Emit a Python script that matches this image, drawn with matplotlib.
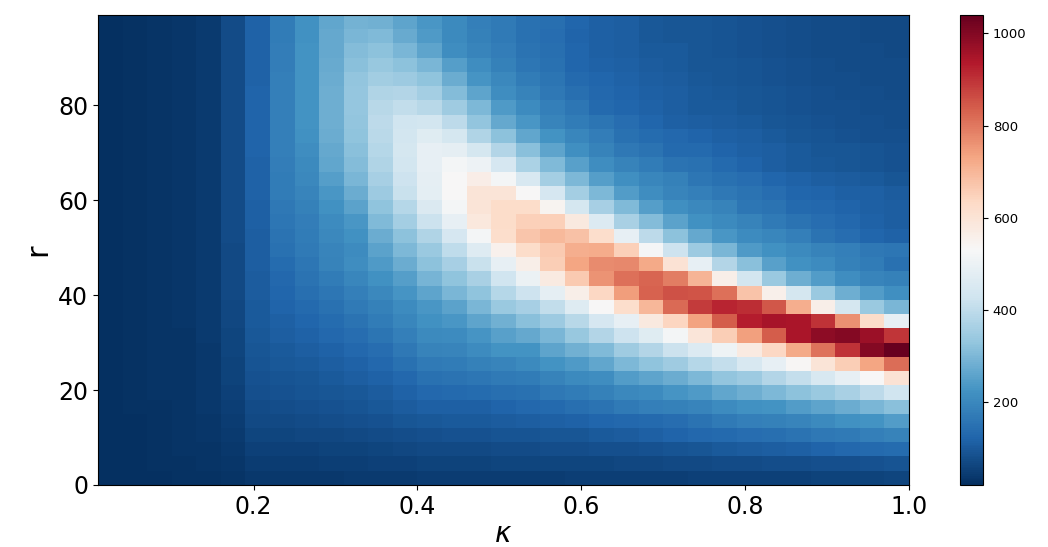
import numpy as np
import matplotlib
matplotlib.use("Agg")
import matplotlib.pyplot as plt

# extent of the data
kappa_range = [0.01, 1.0]
r_range = [0, 99]

# cell values, top row (largest r) first; each row has 33 values for increasing kappa
far_left = [
    [22,24,28,32,40,72],[22,24,28,32,40,72],[22,24,28,32,40,72],[22,24,28,32,40,72],
    [22,24,28,32,40,72],[22,24,28,32,40,72],[22,24,28,32,40,72],[22,24,28,32,40,73],
    [22,24,28,32,40,73],[22,24,28,32,40,73],[22,24,28,32,40,73],[22,24,28,32,40,73],
    [22,24,28,32,40,73],[22,24,28,32,40,72],[22,24,28,32,40,72],[22,24,28,32,40,72],
    [22,24,28,32,40,71],[22,24,28,32,40,70],[22,24,28,32,40,69],[22,24,28,32,40,68],
    [22,24,28,32,40,66],[22,24,28,32,40,64],[22,24,28,31,40,62],[22,24,28,31,39,60],
    [22,24,28,31,39,58],[22,24,28,31,38,56],[22,24,28,30,37,53],[22,24,27,30,36,50],
    [21,23,27,30,35,46],[21,23,26,29,33,42],[21,23,25,28,31,38],[21,22,24,26,29,33],
    [20,21,23,24,26,29],
]
mid_left = [
    [116,175,222,265,290,283,262,232,205,180,170],
    [117,175,223,268,298,305,272,240,205,185,170],
    [118,176,224,270,310,320,295,262,215,195,178],
    [118,178,225,272,315,335,320,295,250,215,185],
    [119,180,226,275,328,352,345,325,275,230,200],
    [120,182,226,280,333,375,380,355,310,260,215],
    [120,182,226,280,333,390,405,390,350,300,240],
    [120,182,225,280,328,395,430,435,395,330,268],
    [120,180,222,278,325,392,438,470,440,375,322],
    [120,180,215,270,318,385,440,490,485,440,380],
    [119,178,205,265,310,375,435,490,520,505,445],
    [118,175,200,250,295,362,425,485,530,565,520],
    [116,172,195,232,275,345,415,480,530,595,595],
    [114,165,185,222,258,325,385,455,520,595,625],
    [112,160,178,210,235,305,355,420,490,585,625],
    [110,155,175,200,222,275,320,375,445,520,620],
    [108,148,170,192,210,258,300,340,400,465,550],
    [108,138,162,188,212,240,275,320,360,415,490],
    [106,130,152,172,196,222,250,293,325,365,430],
    [105,126,144,160,182,202,228,262,295,325,385],
    [103,120,134,148,168,186,210,235,258,295,340],
    [100,114,126,138,155,172,198,222,235,262,285],
    [98,108,118,128,142,158,182,205,210,230,255],
    [94,102,110,118,128,142,165,188,192,208,225],
    [90,96,102,108,116,128,150,170,172,185,195],
    [85,90,95,100,108,116,130,150,155,160,168],
    [80,84,88,92,98,106,118,130,132,138,145],
    [74,78,80,84,90,96,104,112,115,115,122],
    [68,70,72,76,80,85,92,98,100,100,104],
    [60,62,64,66,70,74,78,82,84,84,88],
    [52,54,55,56,58,62,65,68,70,70,74],
    [44,46,46,48,50,52,54,56,58,58,60],
    [36,37,38,38,40,40,42,44,44,44,46],
]
right_side = [
    [150,145,125,112,108,98,95,92,88,85,80,78,74,72,70,68],
    [148,140,120,112,108,98,95,92,88,85,80,78,74,72,70,68],
    [155,145,125,115,110,102,100,95,90,86,82,78,75,74,72,70],
    [160,150,125,118,112,105,102,95,92,88,84,80,77,75,74,72],
    [175,158,135,125,118,108,104,97,94,90,86,82,78,76,75,72],
    [190,165,145,130,122,112,108,100,96,92,88,84,80,78,76,74],
    [210,180,160,135,125,118,110,103,100,95,90,86,83,80,78,76],
    [232,195,175,158,140,125,115,110,105,100,95,90,85,82,80,78],
    [265,225,198,178,150,138,128,122,112,108,100,94,88,85,82,80],
    [315,260,218,190,165,155,135,132,122,115,108,100,95,92,88,85],
    [370,305,255,215,190,175,155,150,135,122,110,100,96,92,90,86],
    [450,355,300,250,218,198,185,160,150,140,125,118,110,105,100,95],
    [530,445,355,300,245,215,195,180,165,155,140,125,122,115,112,105],
    [625,545,440,360,305,250,218,200,190,160,155,135,130,122,112,108],
    [650,650,580,460,365,310,258,222,205,190,170,155,140,130,118,110],
    [670,695,680,620,490,395,320,270,232,208,198,180,155,140,125,118],
    [625,665,715,720,650,525,425,345,295,240,220,205,190,180,165,160],
    [560,655,730,770,775,725,605,490,380,315,255,220,210,185,175,150],
    [500,575,665,760,810,825,790,705,560,435,340,280,245,215,195,185],
    [425,485,560,635,745,830,855,850,810,675,555,440,340,280,245,218],
    [360,405,465,530,620,700,820,885,920,905,845,715,560,440,340,295],
    [315,345,390,445,490,580,640,735,840,930,950,945,900,765,625,490],
    [270,295,335,380,425,470,520,590,655,740,840,945,985,1000,965,895],
    [225,260,285,305,350,380,420,460,510,575,635,725,805,900,1000,1040],
    [205,225,240,265,300,325,350,385,410,450,490,535,595,655,730,815],
    [175,190,205,215,245,260,275,300,330,345,380,410,450,490,530,605],
    [150,165,175,185,200,210,230,240,265,280,300,320,340,365,395,430],
    [128,135,145,155,170,180,185,195,210,220,225,245,260,275,295,315],
    [108,112,118,125,130,135,140,155,170,180,185,195,205,220,225,245],
    [90,92,95,100,105,112,120,130,135,140,145,155,165,170,180,190],
    [75,76,78,80,82,86,90,95,100,105,110,115,122,128,132,138],
    [60,60,62,62,64,66,68,70,72,74,76,78,80,82,85,90],
    [46,46,48,48,50,50,50,52,52,54,54,55,56,56,58,60],
]
vmin, vmax = 20, 1040
xticks = [0.2, 0.4, 0.6, 0.8, 1.0]
yticks = [0, 20, 40, 60, 80]
cbar_ticks = [200, 400, 600, 800, 1000]

grid = np.array([a + b + c for a, b, c in zip(far_left, mid_left, right_side)], dtype=float)

W, H = 1048, 547
fig = plt.figure(figsize=(W / 100, H / 100), dpi=100)
ax = fig.add_axes([98 / W, (H - 485) / H, 811 / W, 470 / H])
im = ax.imshow(grid, cmap="RdBu_r", vmin=vmin, vmax=vmax, aspect="auto",
               extent=[kappa_range[0], kappa_range[1], r_range[0], r_range[1]],
               interpolation="nearest")
ax.set_xticks(xticks)
ax.set_yticks(yticks)
ax.tick_params(labelsize=17)
ax.set_xlabel(r"$\kappa$", fontsize=20, labelpad=1)
ax.set_ylabel("r", fontsize=22, labelpad=4)

cax = fig.add_axes([960 / W, (H - 485) / H, 23 / W, 470 / H])
cb = fig.colorbar(im, cax=cax)
cb.set_ticks(cbar_ticks)
cb.ax.tick_params(labelsize=9.5)

fig.savefig("out.png", dpi=100)
